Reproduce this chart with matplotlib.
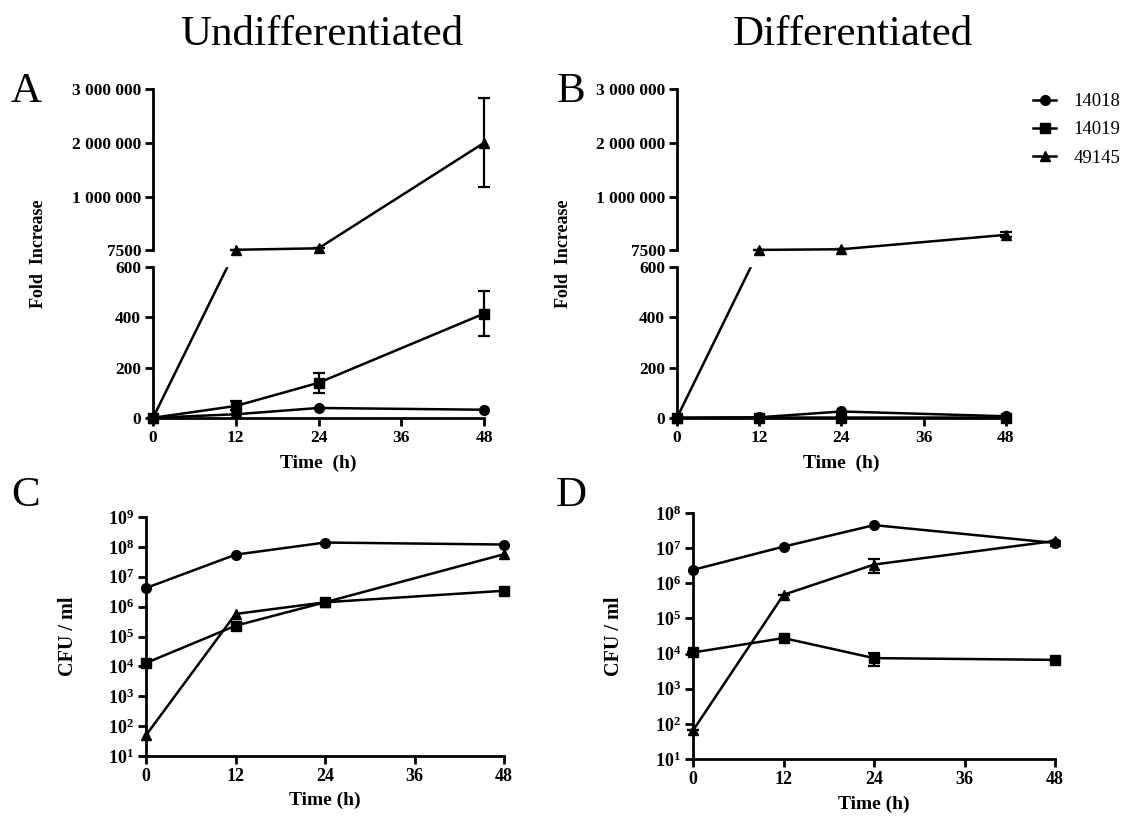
import numpy as np
import matplotlib
matplotlib.use('Agg')
import matplotlib.pyplot as plt
from matplotlib.lines import Line2D

plt.rcParams['font.family'] = ['Liberation Serif', 'DejaVu Serif']
plt.rcParams['mathtext.fontset'] = 'custom'
plt.rcParams['mathtext.rm'] = 'Liberation Serif:bold'
plt.rcParams['mathtext.bf'] = 'Liberation Serif:bold'
plt.rcParams['mathtext.it'] = 'Liberation Serif:bold:italic'

# data
hours = [0, 12, 24, 48]
strains = ['14018', '14019', '49145']
markers = ['o', 's', '^']

# fold increase (A: undifferentiated, B: differentiated)
fold_a = {'14018': [1, 15, 40, 33],
          '14019': [1, 48, 140, 415],
          '49145': [1, 12000, 40000, 2.0e6]}
fold_a_err = {'14018': [0, 0, 0, 0],
              '14019': [0, 18, 40, 90],
              '49145': [0, 0, 0, 0.83e6]}
fold_b = {'14018': [1, 3, 26, 7],
          '14019': [1, 2, 2, 2],
          '49145': [1, 10000, 22000, 290000]}
fold_b_err = {'14018': [0, 0, 0, 0],
              '14019': [0, 0, 0, 0],
              '49145': [0, 0, 0, 45000]}

# CFU / ml (C: undifferentiated, D: differentiated)
cfu_c = {'14018': [4.2e6, 5.5e7, 1.4e8, 1.2e8],
         '14019': [1.3e4, 2.3e5, 1.4e6, 3.4e6],
         '49145': [50, 5.7e5, 1.4e6, 5.7e7]}
cfu_c_err = {'14018': [0, 0, 0, 0],
             '14019': [0, 0, 0, 0],
             '49145': [0, 0, 0, 0]}
cfu_d = {'14018': [2.4e6, 1.1e7, 4.5e7, 1.4e7],
         '14019': [1.07e4, 2.75e4, 7.4e3, 6.6e3],
         '49145': [65, 4.7e5, 3.4e6, 1.6e7]}
cfu_d_err = {'14018': [0, 0, 0, 0],
             '14019': [0, 0, 3.0e3, 0],
             '49145': [0, 0, 1.5e6, 0]}

fold_ticks = [0, 200, 400, 600, 7500, 1e6, 2e6, 3e6]
fold_ticklabels = ['0', '200', '400', '600', '7500', '1 000 000', '2 000 000', '3 000 000']

# segmented axis: 0-600 lower part, 7500-3e6 upper part, gap between
val_pts = [-600, 0, 600, 7500, 3e6, 6e6]
pix_pts = [-151, 0, 151, 168, 329, 490]


def fwd(v):
    return np.interp(v, val_pts, pix_pts)


def inv(u):
    return np.interp(u, pix_pts, val_pts)


def draw_series(ax, data, err):
    for s, m in zip(strains, markers):
        y = np.array(data[s], dtype=float)
        e = np.array(err[s], dtype=float)
        ax.plot(hours, y, color='black', lw=1.8, zorder=2, clip_on=False)
        if e.any():
            ax.errorbar(hours, y, yerr=e, fmt='none', ecolor='black',
                        elinewidth=1.6, capsize=4, capthick=1.6, zorder=2, clip_on=False)
        ax.plot(hours, y, linestyle='none', marker=m, ms=7, color='black',
                zorder=4, clip_on=False)


def style_x(ax, label, ylab_y):
    ax.set_xlim(0, 48)
    ax.set_xticks([0, 12, 24, 36, 48])
    ax.spines['top'].set_visible(False)
    ax.spines['right'].set_visible(False)
    for sp in ['left', 'bottom']:
        ax.spines[sp].set_linewidth(2)
    ax.tick_params(width=2, length=6, direction='out', pad=2.5)
    for lab in ax.get_xticklabels() + ax.get_yticklabels():
        lab.set_fontweight('bold')
    ax.set_xlabel(label, fontsize=14, fontweight='bold')
    ax.xaxis.set_label_coords(0.5, ylab_y)


def fold_panel(ax, data, err):
    ax.set_yscale('function', functions=(fwd, inv))
    ax.set_ylim(0, 3e6)
    draw_series(ax, data, err)
    ax.axhspan(inv(152.5), inv(166.5), color='white', zorder=3)
    ax.set_yticks(fold_ticks)
    ax.set_yticklabels(fold_ticklabels)
    ax.minorticks_off()
    ax.tick_params(labelsize=12.5)
    style_x(ax, 'Time  (h)', -0.11)
    ax.spines['left'].set_visible(False)
    ax.plot([0, 0], [0, 600], color='black', lw=2, clip_on=False, zorder=5, solid_capstyle='projecting')
    ax.plot([0, 0], [7500, 3e6], color='black', lw=2, clip_on=False, zorder=5, solid_capstyle='projecting')
    ax.set_ylabel('Fold  Increase', fontsize=13, fontweight='bold')
    ax.yaxis.set_label_coords(-0.32, 0.5)


def cfu_panel(ax, data, err, top):
    ax.set_yscale('log')
    ax.set_ylim(10, 10 ** top)
    draw_series(ax, data, err)
    ax.set_yticks([10.0 ** k for k in range(1, top + 1)])
    ax.set_yticklabels([r'$\mathbf{10^{%d}}$' % k for k in range(1, top + 1)])
    ax.minorticks_off()
    ax.tick_params(labelsize=13)
    style_x(ax, 'Time (h)', -0.15)
    ax.set_ylabel('CFU / ml', fontsize=14.5, fontweight='bold')


fig = plt.figure(figsize=(11.26, 8.16), dpi=100)
ax_a = fig.add_axes([0.1359, 0.4877, 0.2940, 0.4032])
ax_b = fig.add_axes([0.6012, 0.4877, 0.2922, 0.4032])
ax_c = fig.add_axes([0.1297, 0.0735, 0.3180, 0.2929])
ax_d = fig.add_axes([0.6155, 0.0699, 0.3215, 0.3015])

fold_panel(ax_a, fold_a, fold_a_err)
fold_panel(ax_b, fold_b, fold_b_err)
cfu_panel(ax_c, cfu_c, cfu_c_err, 9)
cfu_panel(ax_d, cfu_d, cfu_d_err, 8)
ax_c.yaxis.set_label_coords(-0.19, 0.5)
ax_d.yaxis.set_label_coords(-0.19, 0.5)

fig.text(0.286, 0.957, 'Undifferentiated', fontsize=31, ha='center', va='center')
fig.text(0.757, 0.957, 'Differentiated', fontsize=31, ha='center', va='center')
for x, y, letter in [(0.023, 0.888, 'A'), (0.507, 0.888, 'B'), (0.023, 0.392, 'C'), (0.507, 0.392, 'D')]:
    fig.text(x, y, letter, fontsize=31, ha='center', va='center')

handles = [Line2D([], [], color='black', lw=1.8, marker=m, ms=7) for m in markers]
fig.legend(handles, strains, loc='upper left', bbox_to_anchor=(1033 / 1126, 1 - 93 / 816),
           frameon=False, fontsize=13.5, handlelength=1.25, handletextpad=0.9,
           labelspacing=0.6, borderpad=0, borderaxespad=0)

fig.savefig('out.png', dpi=100)
